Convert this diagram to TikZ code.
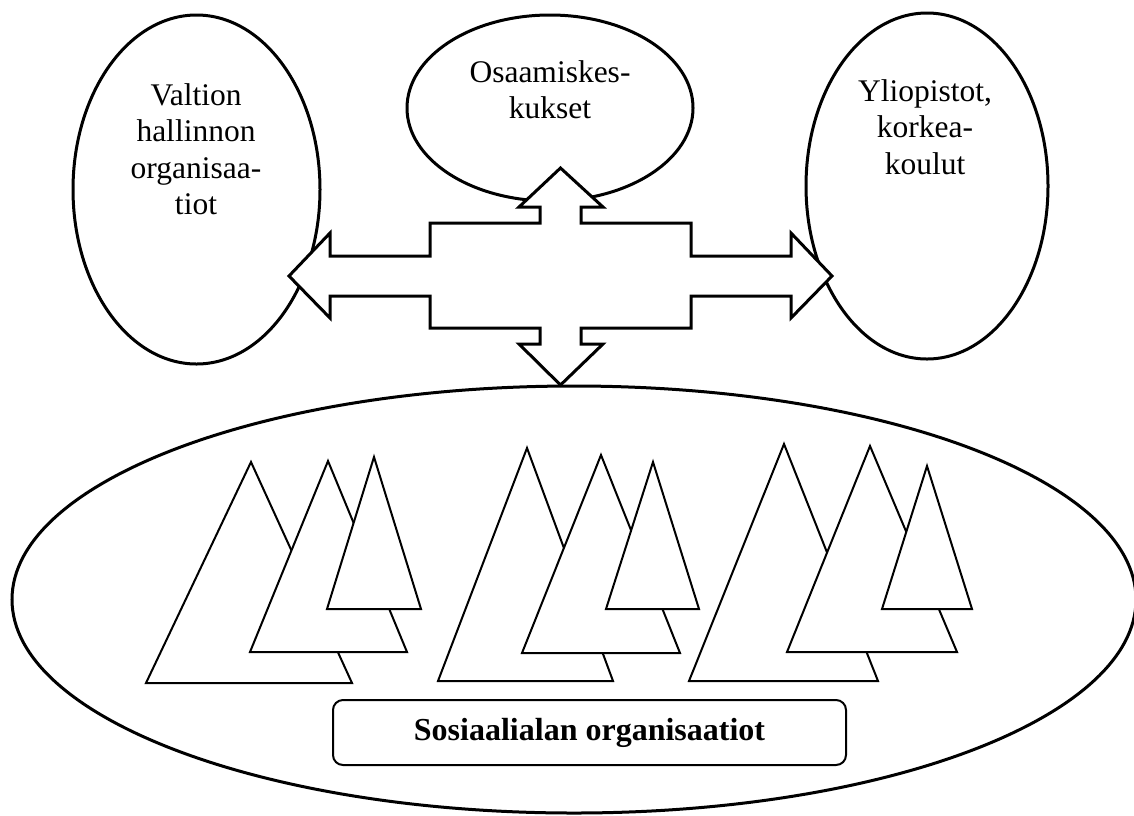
\documentclass[tikz,border=0pt]{standalone}
\usepackage{fontspec}
\setmainfont{Liberation Serif}
\usetikzlibrary{shapes.geometric}
\begin{document}
\begin{tikzpicture}[x=1pt,y=-1pt,
  oval/.style={draw, ellipse, line width=3pt, inner sep=0pt, fill=white},
  tree/.style={draw, line width=2pt, fill=white, line join=miter},
  lbl/.style={anchor=base, inner sep=0pt, font=\fontsize{31.5}{36.5}\selectfont},
  crossarrow/.style={draw, line width=3pt, fill=white, line join=miter},
  namebox/.style={draw, rectangle, rounded corners=10pt, line width=2pt, minimum width=513pt, minimum height=65pt, inner sep=0pt, font=\bfseries\fontsize{32}{38}\selectfont}]
\useasboundingbox (0,0) rectangle (1134,815);
% big ellipse
\node[oval, minimum width=1124pt, minimum height=427pt] (big) at (574,599.5) {};
% trees group 1
\draw[tree] (251,462) -- (146,683) -- (352,683) -- cycle;
\draw[tree] (328,461) -- (250,652) -- (407,652) -- cycle;
\draw[tree] (374,457) -- (327,609) -- (421,609) -- cycle;
% trees group 2
\draw[tree] (527,448) -- (438,681) -- (613,681) -- cycle;
\draw[tree] (601,455) -- (522,653) -- (680,653) -- cycle;
\draw[tree] (653,462) -- (606,609) -- (699,609) -- cycle;
% trees group 3
\draw[tree] (784,444) -- (689,681) -- (878,681) -- cycle;
\draw[tree] (870,446) -- (787,652) -- (957,652) -- cycle;
\draw[tree] (927,466) -- (882,609) -- (972,609) -- cycle;
% label box
\node[namebox] (sos) at (589.5,732.5) {Sosiaalialan organisaatiot};
% top ellipses
\node[oval, minimum width=247pt, minimum height=349pt] (vh) at (196.5,189.5) {};
\node[oval, minimum width=286pt, minimum height=186pt] (ok) at (550,108) {};
\node[oval, minimum width=242pt, minimum height=346pt] (yk) at (927,186) {};
\node[lbl] (tv) at (196,105) {\begin{tabular}[t]{@{}c@{}}Valtion\\hallinnon\\organisaa-\\tiot\end{tabular}};
\node[lbl] (to) at (550,82) {\begin{tabular}[t]{@{}c@{}}Osaamiskes-\\kukset\end{tabular}};
\node[lbl] (ty) at (925,101) {\begin{tabular}[t]{@{}c@{}}Yliopistot,\\korkea-\\koulut\end{tabular}};
% four-way arrow
\draw[crossarrow] (560.5,168) -- (603,207) -- (581,207) -- (581,223) -- (691,223) -- (691,256)
  -- (791,256) -- (791,233) -- (832,276) -- (791,318) -- (791,296) -- (691,296) -- (691,328)
  -- (581,328) -- (581,344) -- (603,344) -- (560.5,385) -- (519,344) -- (540,344) -- (540,328)
  -- (430,328) -- (430,296) -- (330,296) -- (330,318) -- (289,276) -- (330,233) -- (330,256)
  -- (430,256) -- (430,223) -- (540,223) -- (540,207) -- (519,207) -- cycle;
\end{tikzpicture}
\end{document}
